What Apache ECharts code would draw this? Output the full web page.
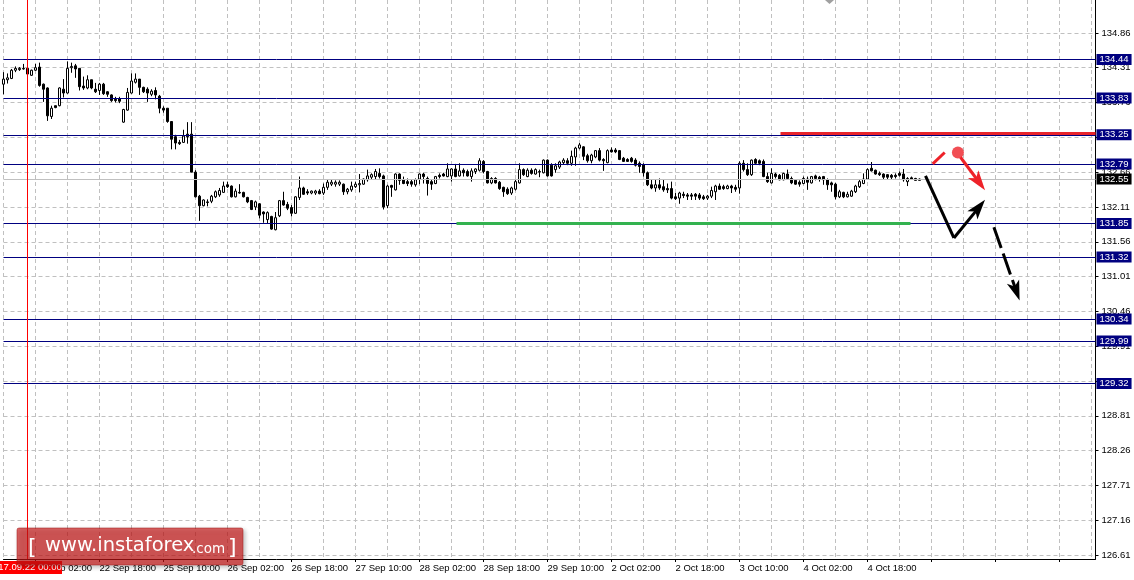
<!DOCTYPE html>
<html><head><meta charset="utf-8">
<script src="https://cdn.jsdelivr.net/npm/echarts@6/dist/echarts.min.js"></script>
<style>html,body{margin:0;padding:0;background:#fff}#c{width:1134px;height:580px}</style>
</head><body><div id="c"></div>
<script>
// ---- data: hourly candles [open, close, low, high] ----
const candles = [
[134.05,134.13,133.89,134.24],[134.12,134.15,134.06,134.22],[134.14,134.27,134.13,134.29],[134.27,134.30,134.24,134.33],
[134.28,134.30,134.26,134.32],[134.29,134.30,134.28,134.37],[134.30,134.21,134.20,134.37],[134.19,134.27,134.18,134.28],
[134.27,134.31,134.26,134.37],[134.32,134.03,134.01,134.39],[134.05,133.97,133.77,134.06],[133.99,133.55,133.47,134.00],
[133.54,133.67,133.50,133.71],[133.71,133.68,133.67,133.71],[133.71,133.99,133.70,134.00],[133.97,133.91,133.84,134.13],
[133.91,134.30,133.90,134.41],[134.31,134.33,134.23,134.39],[134.34,134.29,134.15,134.37],[134.30,134.01,133.95,134.30],
[134.02,133.99,133.96,134.17],[133.99,134.12,133.97,134.19],[134.12,133.99,133.97,134.12],[133.97,133.93,133.91,134.07],
[133.95,134.05,133.88,134.07],[134.05,133.90,133.88,134.07],[133.93,133.89,133.85,133.94],[133.88,133.79,133.77,133.89],
[133.81,133.79,133.76,133.85],[133.82,133.78,133.75,133.85],[133.45,133.65,133.44,133.66],[133.64,133.92,133.63,133.99],
[133.91,134.10,133.90,134.22],[134.08,134.13,134.06,134.22],[134.13,134.00,133.88,134.13],[134.00,133.93,133.91,134.01],
[133.97,133.91,133.77,134.00],[133.89,133.94,133.86,133.97],[133.95,133.88,133.81,134.00],[133.86,133.67,133.59,133.88],
[133.67,133.64,133.60,133.70],[133.67,133.46,133.44,133.67],[133.46,133.18,133.02,133.46],[133.22,133.12,133.02,133.25],
[133.13,133.11,133.09,133.17],[133.13,133.23,133.12,133.33],[133.26,133.22,133.11,133.45],[133.26,132.66,132.66,133.45],
[132.66,132.27,132.26,132.69],[132.28,132.13,131.89,132.30],[132.13,132.22,132.12,132.23],[132.19,132.18,132.12,132.23],
[132.20,132.28,132.17,132.30],[132.27,132.35,132.25,132.37],[132.30,132.37,132.27,132.41],[132.34,132.44,132.33,132.51],
[132.46,132.43,132.41,132.51],[132.44,132.27,132.26,132.45],[132.27,132.36,132.26,132.40],[132.34,132.33,132.32,132.47],
[132.34,132.27,132.26,132.35],[132.26,132.19,132.17,132.27],[132.21,132.07,132.06,132.22],[132.11,132.19,132.06,132.21],
[132.16,131.98,131.93,132.17],[132.03,132.00,131.86,132.04],[131.91,132.02,131.85,132.04],[131.96,131.76,131.75,131.97],
[131.75,131.94,131.74,132.03],[131.97,132.21,131.95,132.22],[132.21,132.14,132.13,132.35],[132.15,132.09,132.06,132.19],
[132.10,132.01,131.96,132.14],[132.01,132.27,132.00,132.28],[132.26,132.41,132.22,132.59],[132.41,132.31,132.30,132.43],
[132.35,132.33,132.30,132.39],[132.33,132.36,132.31,132.37],[132.33,132.36,132.30,132.38],[132.36,132.32,132.31,132.39],
[132.33,132.42,132.30,132.48],[132.42,132.50,132.38,132.55],[132.47,132.50,132.44,132.54],[132.47,132.50,132.43,132.53],
[132.47,132.50,132.44,132.53],[132.47,132.35,132.30,132.48],[132.35,132.39,132.31,132.41],[132.38,132.44,132.35,132.51],
[132.43,132.47,132.41,132.51],[132.46,132.48,132.34,132.63],[132.47,132.55,132.46,132.56],[132.54,132.60,132.51,132.70],
[132.58,132.62,132.55,132.64],[132.59,132.67,132.55,132.71],[132.64,132.59,132.56,132.72],[132.60,132.11,132.07,132.62],
[132.13,132.44,132.09,132.46],[132.45,132.42,132.27,132.46],[132.38,132.63,132.37,132.64],[132.63,132.53,132.46,132.64],
[132.54,132.48,132.47,132.59],[132.51,132.48,132.44,132.56],[132.51,132.47,132.43,132.54],[132.46,132.54,132.43,132.56],
[132.55,132.63,132.47,132.64],[132.63,132.59,132.48,132.65],[132.56,132.48,132.29,132.59],[132.51,132.47,132.38,132.54],
[132.48,132.59,132.47,132.60],[132.61,132.59,132.56,132.64],[132.63,132.60,132.59,132.65],[132.59,132.71,132.58,132.80],
[132.60,132.71,132.51,132.72],[132.71,132.59,132.58,132.79],[132.60,132.68,132.59,132.80],[132.69,132.65,132.59,132.72],
[132.67,132.60,132.59,132.70],[132.59,132.68,132.51,132.72],[132.67,132.71,132.63,132.72],[132.69,132.84,132.67,132.88],
[132.83,132.67,132.64,132.85],[132.67,132.49,132.48,132.68],[132.49,132.56,132.47,132.58],[132.56,132.49,132.48,132.58],
[132.50,132.40,132.38,132.52],[132.42,132.35,132.27,132.43],[132.39,132.32,132.30,132.42],[132.33,132.41,132.30,132.43],
[132.39,132.51,132.37,132.54],[132.49,132.70,132.48,132.80],[132.70,132.62,132.60,132.72],[132.59,132.69,132.58,132.72],
[132.69,132.64,132.62,132.72],[132.63,132.70,132.62,132.72],[132.66,132.67,132.58,132.70],[132.65,132.85,132.64,132.86],
[132.85,132.60,132.59,132.86],[132.77,132.60,132.59,132.80],[132.70,132.76,132.65,132.80],[132.74,132.82,132.71,132.84],
[132.81,132.85,132.78,132.88],[132.84,132.80,132.77,132.88],[132.80,132.91,132.76,133.00],[132.90,133.04,132.76,133.06],
[133.04,133.09,133.02,133.12],[133.06,132.91,132.85,133.07],[132.92,132.84,132.81,132.95],[132.84,132.93,132.80,132.95],
[132.90,133.00,132.88,133.01],[133.00,132.85,132.83,133.04],[132.86,132.84,132.68,132.88],[132.81,133.00,132.80,133.02],
[133.01,132.98,132.97,133.05],[133.01,132.98,132.96,133.04],[133.00,132.86,132.85,133.01],[132.88,132.83,132.82,132.90],
[132.86,132.83,132.82,132.88],[132.88,132.83,132.81,132.90],[132.85,132.77,132.75,132.88],[132.80,132.75,132.65,132.83],
[132.78,132.65,132.59,132.80],[132.65,132.46,132.44,132.67],[132.46,132.41,132.39,132.54],[132.41,132.46,132.35,132.54],
[132.46,132.41,132.38,132.56],[132.43,132.38,132.35,132.54],[132.40,132.38,132.33,132.48],[132.40,132.25,132.23,132.51],
[132.27,132.24,132.22,132.33],[132.25,132.33,132.16,132.35],[132.31,132.29,132.25,132.35],[132.30,132.28,132.22,132.33],
[132.30,132.28,132.22,132.33],[132.31,132.28,132.22,132.33],[132.30,132.25,132.22,132.33],[132.27,132.24,132.22,132.30],
[132.25,132.28,132.22,132.30],[132.28,132.37,132.25,132.43],[132.35,132.44,132.22,132.46],[132.44,132.39,132.38,132.48],
[132.43,132.40,132.38,132.46],[132.40,132.44,132.39,132.46],[132.44,132.41,132.33,132.46],[132.42,132.39,132.35,132.46],
[132.41,132.80,132.32,132.83],[132.80,132.70,132.67,132.85],[132.70,132.62,132.60,132.80],[132.62,132.85,132.60,132.86],
[132.86,132.80,132.78,132.88],[132.84,132.80,132.77,132.86],[132.83,132.59,132.58,132.86],[132.59,132.51,132.49,132.65],
[132.49,132.64,132.48,132.72],[132.63,132.59,132.56,132.65],[132.61,132.54,132.53,132.63],[132.54,132.64,132.53,132.65],
[132.63,132.56,132.54,132.70],[132.56,132.49,132.47,132.59],[132.53,132.47,132.46,132.55],[132.50,132.47,132.43,132.53],
[132.48,132.56,132.47,132.59],[132.55,132.50,132.38,132.59],[132.49,132.59,132.48,132.60],[132.60,132.56,132.53,132.62],
[132.58,132.55,132.51,132.60],[132.59,132.54,132.46,132.60],[132.54,132.46,132.38,132.56],[132.49,132.46,132.35,132.51],
[132.47,132.27,132.23,132.49],[132.27,132.35,132.25,132.38],[132.34,132.27,132.25,132.35],[132.27,132.31,132.26,132.35],
[132.28,132.36,132.27,132.38],[132.35,132.44,132.33,132.46],[132.43,132.51,132.41,132.55],[132.48,132.55,132.47,132.64],
[132.55,132.70,132.54,132.72],[132.72,132.68,132.67,132.82],[132.69,132.63,132.62,132.70],[132.64,132.62,132.60,132.67],
[132.63,132.58,132.55,132.64],[132.62,132.58,132.54,132.63],[132.61,132.58,132.54,132.63],[132.61,132.59,132.56,132.64],
[132.64,132.61,132.59,132.67],[132.63,132.54,132.51,132.71],[132.51,132.56,132.44,132.58],[132.57,132.55,132.54,132.59],
[132.56,132.53,132.53,132.57],[132.53,132.55,132.53,132.56]
];
const totalBars = 274;               // bar slots on the time axis (incl. empty future space)
const timeLabels = ['22 Sep 02:00','22 Sep 18:00','25 Sep 10:00','26 Sep 02:00','26 Sep 18:00','27 Sep 10:00',
  '28 Sep 02:00','28 Sep 18:00','29 Sep 10:00','2 Oct 02:00','2 Oct 18:00','3 Oct 10:00','4 Oct 02:00','4 Oct 18:00'];
const firstLabelBar = 8, labelEvery = 16, gridEvery = 8;
const priceTicks = [126.61,127.16,127.71,128.26,128.81,129.36,129.91,130.46,131.01,131.56,132.11,132.66,133.21,133.76,134.31,134.86];
const levels = [134.44,133.83,133.25,132.79,131.85,131.32,130.34,129.99,129.32];
const bidPrice = 132.55;
const separatorBar = 6;
const separatorLabel = '17.09.22 00:00';
// annotation objects: [barIndex, price]
const resistanceLine = [[194.25,133.27],[273,133.27]];
const supportLine = [[113.25,131.85],[226.75,131.85]];
const mainPath = [[230.5,132.60],[237.6,131.62],[243.8,132.10]];
const altPath = [[247.6,131.79],[253.2,130.78]];
const redTick = [[232.3,132.79],[235.3,132.97]];
const redDot = [238.6,132.97];
const redArrow = [[239.25,132.895],[243.9,132.50]];

const FONT = 'Liberation Sans';
const ARROW = 'path://M6,0 L12,20 L6,15 L0,20 Z';
const cats = Array.from({length: totalBars}, (_, i) => 'b' + i);
const labelAt = {};
timeLabels.forEach((t, k) => { labelAt[firstLabelBar + k * labelEvery] = t; });
const isLabelBar = i => (i - firstLabelBar) % labelEvery === 0 && i >= firstLabelBar;

const boxLabel = (bg) => ({
  show: true, position: 'end', distance: 1, color: '#fff', backgroundColor: bg,
  fontFamily: FONT, fontSize: 9.5, lineHeight: 10, padding: [1, 3, 0, 3],
  formatter: p => Number(p.value).toFixed(2)
});

const seg = (a, b, style, endSym, size) => [
  { coord: a, symbol: 'none' },
  { coord: b, symbol: endSym || 'none', symbolSize: size || 0, lineStyle: style }
];

const chart = echarts.init(document.getElementById('c'), null, {renderer: 'canvas'});
chart.setOption({
  animation: false,
  backgroundColor: '#fff',
  grid: { left: 3.5, right: 38.5, top: 0, bottom: 21, containLabel: false },
  xAxis: [{
    type: 'category', data: cats, boundaryGap: false,
    axisLine: { show: true, onZero: false, lineStyle: { color: '#000', width: 1 } },
    axisTick: { show: true, length: 3, interval: (i) => isLabelBar(i), lineStyle: { color: '#000' } },
    axisLabel: { interval: (i) => isLabelBar(i), align: 'left', margin: 4, color: '#000',
      fontFamily: FONT, fontSize: 9.5, formatter: (v, i) => labelAt[i] || '' },
    splitLine: { show: true, interval: (i) => i % gridEvery === 0, lineStyle: { color: '#c0c0c0', type: [4, 3], width: 1 } }
  }, {
    type: 'value', min: 0, max: totalBars - 1, show: false, gridIndex: 0,
    axisLine: { show: false, onZero: false }, splitLine: { show: false }
  }],
  yAxis: {
    type: 'value', position: 'right', min: 126.547, max: 135.38,
    axisLine: { show: true, onZero: false, lineStyle: { color: '#000', width: 1 } },
    axisTick: { show: true, length: 3, customValues: priceTicks, lineStyle: { color: '#000' } },
    axisLabel: { customValues: priceTicks, margin: 6, color: '#000', fontFamily: FONT, fontSize: 9.5,
      formatter: v => v.toFixed(2) },
    splitLine: { show: true, lineStyle: { color: '#c0c0c0', type: [4, 3], width: 1 } }
  },
  series: [{
    type: 'candlestick', xAxisIndex: 0, data: candles, barWidth: 2, z: 3,
    itemStyle: { color: '#fff', color0: '#000', borderColor: '#000', borderColor0: '#000', borderColorDoji: '#000', borderWidth: 1 },
    markLine: {
      silent: true, symbol: 'none', animation: false,
      lineStyle: { color: '#000080', width: 1, type: 'solid' },
      label: boxLabel('#000080'),
      data: levels.map(v => ({ yAxis: v }))
        .concat([{ yAxis: bidPrice, lineStyle: { color: '#c0c0c0', width: 1, type: 'solid' }, label: boxLabel('#000') }])
        .concat([{ xAxis: separatorBar, lineStyle: { color: '#ff0000', width: 1, type: 'solid' }, label: { show: false } }])
    }
  }, {
    type: 'scatter', xAxisIndex: 1, data: [redDot], symbol: 'circle', symbolSize: 12, z: 6,
    itemStyle: { color: '#ee2229' }, silent: true,
    markLine: {
      silent: true, symbol: 'none', animation: false, label: { show: false },
      lineStyle: { width: 3, type: 'solid' },
      data: [
        seg(resistanceLine[0], resistanceLine[1], { color: '#e8242b', width: 3 }),
        seg(supportLine[0], supportLine[1], { color: '#33b24f', width: 3 }),
        seg(redTick[0], redTick[1], { color: '#ee2229', width: 3 }),
        seg(redArrow[0], redArrow[1], { color: '#ee2229', width: 3 }, ARROW, [13, 20]),
        seg(mainPath[0], mainPath[1], { color: '#000', width: 3 }),
        seg(mainPath[1], mainPath[2], { color: '#000', width: 3 }, ARROW, [13, 20]),
        seg(altPath[0], altPath[1], { color: '#000', width: 3, type: [22, 6] }, ARROW, [13, 20])
      ]
    }
  }],
  graphic: [
    { type: 'polygon', silent: true, z: 10, shape: { points: [[825, 0], [834, 0], [829.5, 4]] }, style: { fill: '#a0a0a0' } },
    { type: 'rect', silent: true, z: 20, shape: { x: -8, y: 561, width: 70, height: 13 }, style: { fill: '#ff0000' } },
    { type: 'text', silent: true, z: 21, style: { text: separatorLabel, x: 30, y: 567.5, align: 'center', verticalAlign: 'middle',
      fill: '#fff', font: '9.5px "Liberation Sans"' } },
    { type: 'group', silent: true, z: 30, children: [
      { type: 'rect', z: 30, shape: { x: 17, y: 528, width: 226, height: 37, r: 2 },
        style: { fill: 'rgba(204,20,20,0.65)', stroke: 'rgba(160,20,20,0.5)', lineWidth: 1,
          shadowBlur: 4, shadowColor: 'rgba(0,0,0,0.35)', shadowOffsetX: 2, shadowOffsetY: 2 } },
      { type: 'text', z: 31, style: { text: '[', x: 28, y: 548, verticalAlign: 'middle', fill: '#fff', font: '22px "DejaVu Sans"' } },
      { type: 'text', z: 31, style: { text: 'www.instaforex', x: 45, y: 546, verticalAlign: 'middle', fill: '#fff', font: '19.5px "DejaVu Sans"' } },
      { type: 'text', z: 31, style: { text: '.com', x: 192, y: 549, verticalAlign: 'middle', fill: '#fff', font: '13.5px "DejaVu Sans"' } },
      { type: 'text', z: 31, style: { text: ']', x: 228, y: 548, verticalAlign: 'middle', fill: '#fff', font: '22px "DejaVu Sans"' } }
    ] }
  ]
});
</script>
</body></html>
